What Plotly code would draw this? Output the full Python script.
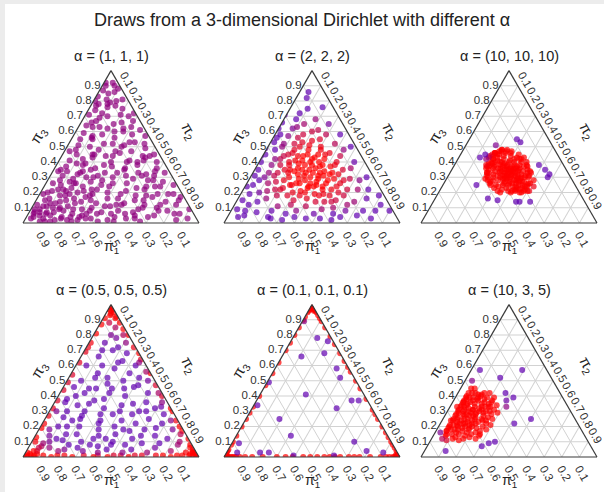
import math
import plotly.graph_objects as go

# Draws in percent: each pair is (pi1, pi3); pi2 = 100 - pi1 - pi3
draws_1_1_1 = [
    (71,4),(83,11),(12,2),(47,6),(29,15),(63,3),(5,19),(38,12),(88,5),(56,17),
    (19,8),(75,13),(33,1),(94,3),(42,20),(8,6),(67,9),(24,23),(51,2),(15,28),
    (79,7),(36,26),(60,14),(3,33),(45,11),(27,4),(70,18),(11,41),(54,24),(86,9),
    (31,37),(64,5),(18,17),(49,30),(7,12),(40,3),(77,16),(22,46),(58,8),(2,25),
    (35,19),(73,21),(13,53),(52,13),(26,31),(90,1),(44,35),(9,58),(66,25),(30,9),
    (81,2),(16,38),(57,29),(39,43),(6,44),(48,1),(69,11),(21,62),(61,35),(34,7),
    (74,10),(10,24),(46,48),(28,52),(4,67),(55,6),(64,19),(17,70),(41,28),(63,16),
    (1,9),(50,39),(25,12),(82,5),(37,33),(14,76),(59,20),(32,57),(8,34),(68,2),
    (23,5),(43,51),(78,10),(3,81),(53,32),(19,41),(65,28),(11,87),(38,16),(87,7),
    (29,63),(56,10),(6,49),(47,22),(72,14),(16,65),(33,48),(60,3),(24,36),(92,4),
    (42,8),(9,71),(70,26),(27,44),(51,19),(3,92),(36,59),(80,15),(18,24),(62,31),
    (12,14),(45,42),(76,4),(20,56),(57,37),(31,21),(89,9),(7,80),(40,55),(67,18),
    (25,67),(47,38),(14,32),(84,1),(48,27),(2,57),(35,3),(73,8),(22,74),(61,23),
    (10,44),(44,16),(79,19),(30,40),(5,3),(57,26),(17,51),(52,7),(33,55),(86,12),
    (13,78),(58,34),(28,26),(74,2),(47,45),(1,72),(64,13),(23,29),(41,36),(87,1),
    (9,85),(55,21),(32,64),(69,6),(19,10),(50,47),(76,20),(4,40),(37,50),(62,9),
    (26,58),(83,7),(15,47),(43,25),(66,22),(7,63),(34,30),(51,33),(21,18),(91,6),
    (46,4),(11,66),(68,15),(25,63),(53,41),(2,17),(39,6),(78,13),(16,83),(57,1),
    (33,56),(87,3),(24,47),(49,34),(6,75),(65,21),(41,12),(18,60),(72,1),(35,38),
    (13,24),(60,27),(27,18),(81,11),(37,45),(8,90),(54,15),(30,33),(75,9),(20,77),
    (48,11),(3,61),(38,45),(66,4),(23,52),(58,26),(14,8),(50,22),(28,66),(84,6),
    (10,53),(42,31),(69,22),(36,13),(5,86),(61,6),(31,44),(17,31),(77,3),(45,39),
    (19,80),(53,18),(7,27),(39,24),(63,34),(19,72),(45,30),(90,7),(12,62),(34,5),
    (3,90),(7,92),(2,88),(11,79),(12,81),(9,77),(5,70),(18,78),(22,69),(27,71),
    (12,28),(20,22),(8,19),(15,40),(24,15),(5,52),(18,33),(10,31),(27,10),(14,19),
    (6,36),(21,40),(3,45),(16,12),(11,6),(25,35),(9,43),(19,50),(4,15),(13,60),
]

draws_2_2_2 = [
    (33,33),(30,36),(36,30),(28,31),(38,35),(34,27),(25,38),(40,28),(31,40),(29,26),
    (35,38),(42,32),(26,34),(37,24),(32,29),(44,26),(23,29),(39,41),(27,43),(45,35),
    (33,22),(21,37),(41,23),(30,45),(36,44),(48,30),(24,24),(46,21),(19,32),(28,48),
    (34,35),(31,31),(37,33),(27,37),(40,36),(35,25),(29,33),(43,29),(22,42),(38,39),
    (50,25),(47,33),(20,45),(26,51),(32,50),(41,45),(52,28),(18,28),(39,19),(31,18),
    (25,20),(44,38),(49,38),(36,48),(23,54),(30,56),(55,23),(53,33),(16,40),(42,50),
    (57,27),(47,42),(34,52),(20,50),(28,22),(37,18),(45,16),(15,35),(24,45),(39,31),
    (51,20),(33,44),(43,40),(19,22),(29,53),(27,28),(56,31),(46,26),(22,33),(35,41),
    (60,22),(38,46),(26,58),(17,46),(48,18),(54,38),(21,26),(32,24),(40,24),(30,62),
    (58,33),(35,57),(44,44),(62,26),(14,29),(23,18),(41,14),(50,42),(27,63),(36,14),
    (61,18),(18,55),(32,14),(47,48),(65,21),(12,44),(53,15),(29,15),(56,12),(42,56),
    (20,60),(66,28),(24,12),(39,58),(13,22),(59,40),(16,61),(48,11),(34,66),(25,68),
    (68,16),(11,52),(63,35),(33,10),(70,20),(22,65),(45,53),(10,36),(57,44),(19,14),
    (74,14),(27,8),(40,9),(64,11),(9,28),(38,62),(52,49),(14,68),(21,72),(30,71),
    (71,25),(55,8),(8,48),(17,8),(46,6),(76,19),(62,6),(11,16),(35,6),(28,76),
    (80,12),(6,40),(15,75),(69,8),(7,22),(42,66),(24,80),(50,55),(60,46),(18,84),
    (78,7),(84,8),(5,12),(10,8),(32,4),(58,4),(72,3),(44,3),(22,5),(86,5),
    (12,82),(20,88),(8,65),(5,58),(4,30),(3,18),(88,9),(82,15),(75,24),(67,31),
    (9,86),(6,76),(3,50),(73,4),(52,3),(15,3),(2,8),(90,4),(66,2),(38,2),
    (45,60),(54,45),(36,70),(62,30),(48,35),(55,18),(13,58),(26,40),(40,52),(31,38),
    (49,25),(57,22),(44,20),(34,19),(24,32),(18,38),(21,48),(43,34),(38,26),(29,42),
]

draws_10_10_10 = [
    (33,33),(30,35),(36,31),(32,28),(28,38),(38,36),(34,40),(27,32),(40,30),(35,26),
    (31,31),(29,29),(37,34),(33,37),(39,27),(26,36),(35,35),(32,42),(41,34),(30,25),
    (34,30),(36,38),(28,34),(38,31),(31,36),(33,26),(40,37),(27,40),(35,43),(29,27),
    (37,29),(32,34),(34,24),(42,28),(30,40),(25,34),(38,40),(36,27),(31,44),(39,33),
    (33,31),(29,36),(35,32),(32,38),(37,36),(30,30),(34,35),(28,30),(36,33),(33,28),
    (41,31),(26,30),(39,38),(31,27),(35,29),(27,37),(38,25),(32,32),(34,45),(30,33),
    (43,32),(29,41),(36,41),(40,26),(25,38),(33,39),(37,31),(31,34),(35,37),(28,27),
    (38,34),(32,25),(34,33),(30,37),(36,30),(39,29),(27,35),(33,35),(41,36),(29,32),
    (44,30),(26,42),(35,40),(31,29),(37,26),(32,36),(38,29),(30,28),(34,38),(28,36),
    (45,28),(23,40),(35,46),(41,25),(27,44),(38,42),(31,23),(43,37),(25,31),(34,23),
    (46,33),(22,35),(37,44),(40,23),(29,46),(32,47),(44,35),(24,43),(36,24),(28,24),
    (47,30),(30,48),(39,44),(42,39),(26,26),(33,22),(45,25),(38,21),(35,46),(23,33),
    (48,26),(21,38),(40,40),(25,47),(21,34),(44,37),(30,22),(40,21),(27,48),(44,24),
    (22,42),(36,21),(47,31),(24,30),(31,47),(40,39),(23,31),(45,33),(28,21),(37,45),
    (21,37),(43,22),(27,25),(30,48),(42,38),(48,28),(22,45),(34,20),(38,42),(25,26),
    (47,23),(20,40),(35,46),(45,20),(29,21),(46,33),(22,28),(40,43),(28,47),(33,20),
    (46,21),(21,33),(39,20),(49,29),(24,24),(33,45),(26,46),(45,36),(23,37),(42,42),
    (36,22),(31,21),(48,25),(20,43),(29,24),(41,45),(47,27),(23,42),(35,22),(44,38),
    (45,43),(56,25),(18,55),(12,35),(17,53),(32,51),(39,14),(37,14),(31,14),(49,15),
    (13,30),(14,38),(54,16),(11,32),
]

draws_05_05_05 = [
    (2,96),(1,98),(3,94),(0,99),(1,95),(4,93),(2,91),(0,97),(1,92),(3,97),
    (97,1),(95,2),(98,0),(93,1),(96,3),(91,2),(99,1),(94,0),(92,4),(95,1),
    (1,1),(2,3),(0,2),(3,1),(1,5),(4,2),(2,0),(0,4),(5,1),(1,3),(2,6),(6,3),
    (12,87),(18,81),(24,75),(30,69),(37,62),(45,54),(55,44),(62,37),(72,27),(80,19),(86,13),(8,91),(27,72),(50,49),(67,32),(77,22),(88,10),
    (1,88),(0,80),(1,72),(1,64),(0,55),(1,47),(1,40),(0,32),(1,24),(1,17),(0,12),(1,8),(1,84),(0,68),(0,30),(1,20),
    (88,1),(80,1),(72,0),(65,1),(57,1),(48,1),(40,0),(32,1),(24,1),(16,0),(9,1),(84,0),(52,0),(36,1),(20,1),(12,1),(76,1),(44,1),(60,0),
    (5,85),(8,78),(14,70),(10,72),(6,60),(20,70),(15,62),(25,60),(30,55),(12,55),
    (4,50),(18,50),(28,48),(40,45),(50,40),(8,42),(22,40),(35,38),(45,35),(60,30),
    (5,33),(15,30),(30,30),(42,28),(55,25),(70,20),(10,22),(25,22),(38,20),(48,18),
    (62,15),(75,12),(3,15),(18,14),(32,12),(44,10),(58,8),(70,8),(82,6),(8,8),
    (22,6),(36,5),(50,5),(64,4),(78,4),(90,4),(14,4),(28,3),(42,3),(56,3),
    (10,80),(4,75),(16,75),(7,68),(24,66),(3,62),(12,63),(19,58),(33,52),(8,52),
    (26,52),(14,46),(36,45),(2,42),(44,42),(56,38),(20,35),(12,36),(27,34),(38,32),
    (50,30),(64,26),(4,24),(16,25),(32,24),(46,22),(58,20),(68,15),(80,10),(6,18),
    (22,18),(40,15),(54,12),(86,7),(12,12),(28,9),(46,8),(66,6),(74,5),(2,3),
    (34,60),(42,50),(48,46),(58,36),(66,30),(76,18),(20,45),(30,42),(52,34),(35,28),
    (60,24),(24,28),(44,24),(15,19),(50,14),(62,10),(6,10),(38,8),(18,9),(54,7),
    (78,14),(84,9),(88,6),(7,88),(3,80),(2,56),(3,36),(6,28),(26,14),(34,18),
    (9,32),(41,37),(53,27),(72,11),(27,45),(11,47),(19,30),(65,20),(31,17),(47,12),
]

draws_01_01_01 = [
    (0,100),(0,99),(1,99),(0,98),(2,98),(0,97),(1,97),(3,97),(0,96),(0,95),(4,96),(1,96),(0,93),(5,95),(0,91),(2,98),(1,98),(0,100),
    (100,0),(99,0),(99,1),(98,0),(98,2),(97,0),(97,3),(96,0),(95,0),(96,4),(94,0),(93,0),(95,5),(91,0),(92,8),(99,0),(98,1),(100,0),
    (0,0),(1,0),(0,1),(2,0),(0,2),(1,1),(3,0),(0,3),(4,0),(0,4),(6,0),(0,6),(0,8),(8,0),(2,1),(0,0),(1,0),(0,1),
    (8,92),(10,90),(15,85),(20,80),(25,75),(30,70),(38,62),(45,55),(53,47),(60,40),(67,33),(71,29),(75,25),(80,20),(86,14),(90,10),
    (0,89),(0,85),(0,79),(0,74),(0,68),(0,63),(0,59),(0,56),(0,50),(0,45),(0,38),(0,31),(0,28),(0,25),(0,20),(0,16),(0,13),(0,10),
    (88,0),(84,0),(78,0),(70,0),(65,0),(61,0),(55,0),(51,0),(47,0),(43,0),(40,0),(37,0),(34,0),(29,0),(26,0),(23,0),(17,0),(11,0),
    (10,89),(8,78),(3,76),(9,68),(23,66),(7,58),(8,52),(50,49),(33,41),(9,37),(5,37),(20,32),(64,34),(56,25),(55,14),
    (21,10),(17,4),(8,3),(78,3),(73,3),(91,3),(87,9),(37,1),(60,1),
]

draws_10_3_5 = [
    (57,29),(61,25),(53,33),(49,37),(64,22),(67,19),(46,40),(71,15),(55,31),(59,27),
    (62,28),(65,24),(57,34),(54,36),(69,21),(72,18),(51,39),(75,15),(48,42),(66,26),
    (66,28),(63,31),(69,25),(60,34),(73,21),(57,37),(77,17),(54,40),(79,14),(61,30),
    (52,30),(57,25),(49,33),(46,36),(60,22),(63,19),(43,39),(66,16),(40,42),(55,28),
    (48,30),(51,27),(45,33),(42,36),(56,23),(59,19),(39,39),(61,16),(53,24),(50,31),
    (64,29),(59,33),(67,25),(56,35),(71,21),(53,39),(74,18),(50,42),(78,15),(47,45),
    (60,28),(63,25),(55,31),(52,35),(65,22),(69,20),(49,38),(72,16),(47,41),(74,13),
    (54,29),(57,27),(51,32),(48,35),(62,23),(65,20),(45,38),(68,17),(43,42),(58,30),
    (50,29),(53,25),(47,33),(44,35),(58,22),(61,20),(41,37),(64,18),(56,26),(59,24),
    (46,28),(49,26),(43,31),(52,22),(40,34),(62,27),(58,36),(68,23),(55,38),(70,18),
    (63,33),(60,31),(57,32),(52,37),(48,39),(67,22),(71,24),(75,19),(45,41),(62,21),
    (44,33),(46,30),(51,24),(55,20),(58,17),(60,14),(64,15),(68,14),(76,12),(80,11),
    (82,12),(70,12),(66,13),(73,11),(63,12),(59,15),(54,18),(50,21),(47,25),(42,29),
    (77,17),(74,20),(70,24),(67,27),(64,30),(61,33),(58,36),(55,39),(52,42),(49,45),
    (38,57),(14,57),(29,52),(31,42),(28,39),(36,22),(25,25),(62,7),(57,9),(53,10),
    (84,4),(81,16),(46,50),(33,37),(35,33),
]

panels = [
    ("α = (1, 1, 1)", (1, 1, 1), draws_1_1_1),
    ("α = (2, 2, 2)", (2, 2, 2), draws_2_2_2),
    ("α = (10, 10, 10)", (10, 10, 10), draws_10_10_10),
    ("α = (0.5, 0.5, 0.5)", (0.5, 0.5, 0.5), draws_05_05_05),
    ("α = (0.1, 0.1, 0.1)", (0.1, 0.1, 0.1), draws_01_01_01),
    ("α = (10, 3, 5)", (10, 3, 5), draws_10_3_5),
]

tick_vals = [10, 20, 30, 40, 50, 60, 70, 80, 90]
tick_text = ["0.1", "0.2", "0.3", "0.4", "0.5", "0.6", "0.7", "0.8", "0.9"]

W, H = 604, 492
SIDE = 176
TRI_H = SIDE * math.sqrt(3) / 2
left_x = [23, 224, 421]
base_y = [223, 457]

FONT = "Liberation Sans, Arial, sans-serif"


def log_density(alpha, p):
    eps = 1e-4
    s = math.lgamma(sum(alpha)) - sum(math.lgamma(a) for a in alpha)
    for a, x in zip(alpha, p):
        s += (a - 1) * math.log(max(x, eps))
    return s


def shade(ld):
    # low density -> violet, high density -> red
    return min(1.0, max(0.0, (ld - 0.4) / 1.0))


def px_x(x):
    return x / W


def px_y(y):
    return (H - y) / H


fig = go.Figure()
annotations = []
layout_ternary = {}

for i, (label, alpha, draws) in enumerate(panels):
    row, col = divmod(i, 3)
    x0 = left_x[col]
    yb = base_y[row]
    sub = "ternary" if i == 0 else f"ternary{i + 1}"

    pi1 = [d[0] for d in draws]
    pi3 = [d[1] for d in draws]
    pi2 = [100 - a - b for a, b in zip(pi1, pi3)]
    colors = [shade(log_density(alpha, (a / 100, b / 100, c / 100)))
              for a, b, c in zip(pi1, pi2, pi3)]

    fig.add_trace(go.Scatterternary(
        a=pi3, b=pi1, c=pi2, subplot=sub, mode="markers",
        marker=dict(size=6, color=colors, cmin=0, cmax=1,
                    colorscale=[[0, "rgb(97,0,177)"], [1, "rgb(255,0,0)"]],
                    opacity=0.7, line=dict(width=0)),
        hoverinfo="skip", showlegend=False,
    ))

    axis_common = dict(
        tickmode="array", tickvals=tick_vals, ticktext=tick_text,
        showgrid=True, gridcolor="#d2d2d2", gridwidth=1,
        showline=True, linecolor="#3a3a3a", linewidth=1.2,
        ticks="", ticklen=0,
        tickfont=dict(family=FONT, size=11.5, color="#333333"),
        title=dict(text=""),
        min=0,
    )
    layout_ternary[sub] = dict(
        sum=100,
        bgcolor="white",
        domain=dict(x=[px_x(x0), px_x(x0 + SIDE)],
                    y=[px_y(yb), px_y(yb - TRI_H)]),
        aaxis=dict(axis_common),
        baxis=dict(axis_common, tickangle=60),
        caxis=dict(axis_common, tickangle=60),
    )

    cx = x0 + SIDE / 2
    apex_y = yb - TRI_H
    common = dict(xref="paper", yref="paper", showarrow=False,
                  xanchor="center", yanchor="middle")
    annotations.append(dict(
        text=label, x=px_x(cx), y=px_y(apex_y - 15),
        font=dict(family=FONT, size=14.5, color="#222222"), **common))
    annotations.append(dict(
        text="π<sub>1</sub>", x=px_x(cx), y=px_y(yb + 24),
        font=dict(family=FONT, size=14, color="#222222"), **common))
    annotations.append(dict(
        text="π<sub>3</sub>", x=px_x(x0 + 16), y=px_y(yb - 87), textangle=-60,
        font=dict(family=FONT, size=15, color="#222222"), **common))
    annotations.append(dict(
        text="π<sub>2</sub>", x=px_x(x0 + SIDE - 10), y=px_y(yb - 92), textangle=60,
        font=dict(family=FONT, size=15, color="#222222"), **common))

annotations.append(dict(
    text="Draws from a 3-dimensional Dirichlet with different α",
    x=0.5, y=px_y(20), xref="paper", yref="paper", showarrow=False,
    xanchor="center", yanchor="middle",
    font=dict(family=FONT, size=18, color="#222222"),
))

fig.update_layout(
    width=W, height=H,
    margin=dict(l=0, r=0, t=0, b=0),
    paper_bgcolor="white",
    annotations=annotations,
    shapes=[
        dict(type="rect", xref="paper", yref="paper", x0=0, x1=1, y0=px_y(4), y1=1,
             fillcolor="#ececec", line=dict(width=0), layer="below"),
        dict(type="rect", xref="paper", yref="paper", x0=0, x1=px_x(5), y0=0, y1=1,
             fillcolor="#ececec", line=dict(width=0), layer="below"),
    ],
    **layout_ternary,
)

fig.write_html("out.html")
